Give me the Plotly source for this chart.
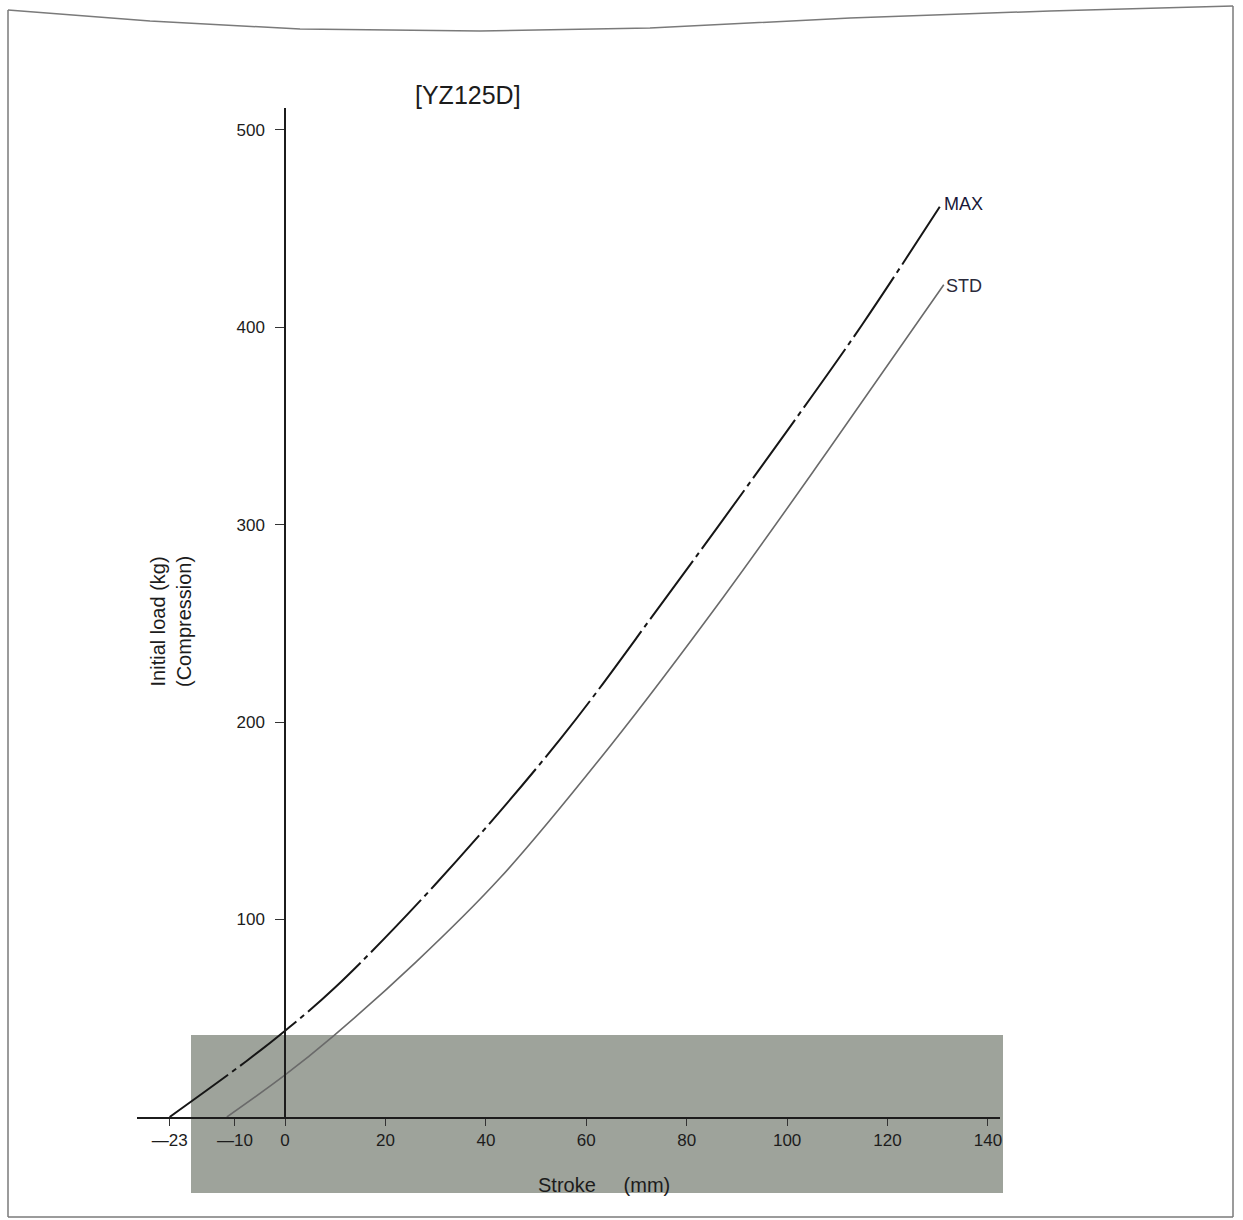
import plotly.graph_objects as go

# ---- data ----
max_x = [-23, -7.6, 0, 10, 30, 55, 75, 100, 115, 130.4]
max_y = [0, 28.5, 43.7, 65.7, 118, 192, 260, 347.5, 401.5, 461]

std_x = [-11.6, 0, 9.6, 26, 42.8, 65, 87.2, 108, 131.2]
std_y = [0, 21.3, 41, 78.3, 121, 188.7, 263, 337, 421.5]

x_tickvals = [-23, -10, 0, 20, 40, 60, 80, 100, 120, 140]
x_ticktext = ["\u201423", "\u201410", "0", "20", "40", "60", "80", "100", "120", "140"]
y_tickvals = [100, 200, 300, 400, 500]
y_ticktext = ["100", "200", "300", "400", "500"]

series_names = ["MAX", "STD"]
title_text = "[YZ125D]"
y_title = "Initial load (kg)<br>(Compression)"
x_title = "Stroke&nbsp;&nbsp;&nbsp;&nbsp;&nbsp;(mm)"

W, H = 1243, 1220
FONT = "Liberation Sans, Arial, Helvetica, sans-serif"
INK = "#1c1c1c"

def px(xp):
    return xp / W

def py(yp):
    return 1 - yp / H

fig = go.Figure()

fig.add_trace(go.Scatter(
    x=max_x, y=max_y, mode="lines", name=series_names[0],
    line=dict(color="#161616", width=2, shape="spline", smoothing=1.0,
              dash="72px,5px,5px,5px"),
    showlegend=False, hoverinfo="skip",
))
fig.add_trace(go.Scatter(
    x=std_x, y=std_y, mode="lines", name=series_names[1],
    line=dict(color="#6a6a6a", width=1.6, shape="spline", smoothing=1.0),
    showlegend=False, hoverinfo="skip",
))

# series labels at the ends of the curves
fig.add_annotation(x=max_x[-1], y=max_y[-1], xref="x", yref="y",
                   text=series_names[0], showarrow=False, xanchor="left",
                   yanchor="middle", xshift=2, yshift=3,
                   font=dict(family=FONT, size=18, color="#181838"))
fig.add_annotation(x=std_x[-1], y=std_y[-1], xref="x", yref="y",
                   text=series_names[1], showarrow=False, xanchor="left",
                   yanchor="middle", xshift=0, yshift=-1,
                   font=dict(family=FONT, size=18, color="#2a2a3a"))

# chart title
fig.add_annotation(x=px(468), y=py(95), xref="paper", yref="paper",
                   text=title_text, showarrow=False, xanchor="center",
                   yanchor="middle", font=dict(family=FONT, size=25, color=INK))
# y title
fig.add_annotation(x=px(171), y=py(622), xref="paper", yref="paper",
                   text=y_title, showarrow=False, textangle=-90,
                   xanchor="center", yanchor="middle",
                   font=dict(family=FONT, size=20, color=INK))
# x title
fig.add_annotation(x=px(604), y=py(1185), xref="paper", yref="paper",
                   text=x_title, showarrow=False, xanchor="center",
                   yanchor="middle", font=dict(family=FONT, size=20, color=INK))

shapes = []
# grey scan overlay band
shapes.append(dict(type="rect", xref="paper", yref="paper",
                   x0=px(191), x1=px(1003), y0=py(1193), y1=py(1035),
                   fillcolor="#9ea39b", line=dict(width=0), layer="below"))
# page frame from the scan
frame_col = "#7a7a7a"
shapes.append(dict(type="line", xref="paper", yref="paper",
                   x0=px(8), x1=px(8), y0=py(10), y1=py(1217),
                   line=dict(color=frame_col, width=1.5)))
shapes.append(dict(type="line", xref="paper", yref="paper",
                   x0=px(1233), x1=px(1233), y0=py(6), y1=py(1217),
                   line=dict(color=frame_col, width=1.5)))
shapes.append(dict(type="line", xref="paper", yref="paper",
                   x0=px(8), x1=px(1233), y0=py(1217), y1=py(1217),
                   line=dict(color=frame_col, width=1.5)))
top_pts = [(8, 10), (150, 21), (300, 29), (480, 31), (650, 28), (850, 18),
           (1050, 11), (1233, 6)]
path = "M {} {}".format(px(top_pts[0][0]), py(top_pts[0][1]))
for (a, b) in top_pts[1:]:
    path += " L {} {}".format(px(a), py(b))
shapes.append(dict(type="path", xref="paper", yref="paper", path=path,
                   line=dict(color=frame_col, width=1.5)))

fig.update_layout(
    width=W, height=H,
    margin=dict(l=0, r=0, t=0, b=0, autoexpand=False),
    paper_bgcolor="white",
    plot_bgcolor="rgba(0,0,0,0)",
    shapes=shapes,
    font=dict(family=FONT, color=INK),
    xaxis=dict(
        domain=[px(137), px(1000)],
        range=[-29.5, 142.4],
        showgrid=False, zeroline=False,
        showline=True, linecolor="#1c1c1c", linewidth=1.5,
        ticks="outside", ticklen=7, tickwidth=1.2, tickcolor="#333",
        tickvals=x_tickvals, ticktext=x_ticktext,
        tickfont=dict(family=FONT, size=17, color=INK),
        automargin=False,
    ),
    yaxis=dict(
        domain=[py(1117), py(108)],
        range=[0, 511],
        anchor="free", position=px(285),
        showgrid=False, zeroline=False,
        showline=True, linecolor="#1c1c1c", linewidth=1.5,
        ticks="outside", ticklen=9, tickwidth=1.2, tickcolor="#333",
        ticklabelstandoff=7,
        tickvals=y_tickvals, ticktext=y_ticktext,
        tickfont=dict(family=FONT, size=17, color=INK),
        automargin=False,
    ),
)

fig.write_html("out.html",
               config={"displayModeBar": False},
               post_script="document.body.style.margin='0';document.body.style.overflow='hidden';")
